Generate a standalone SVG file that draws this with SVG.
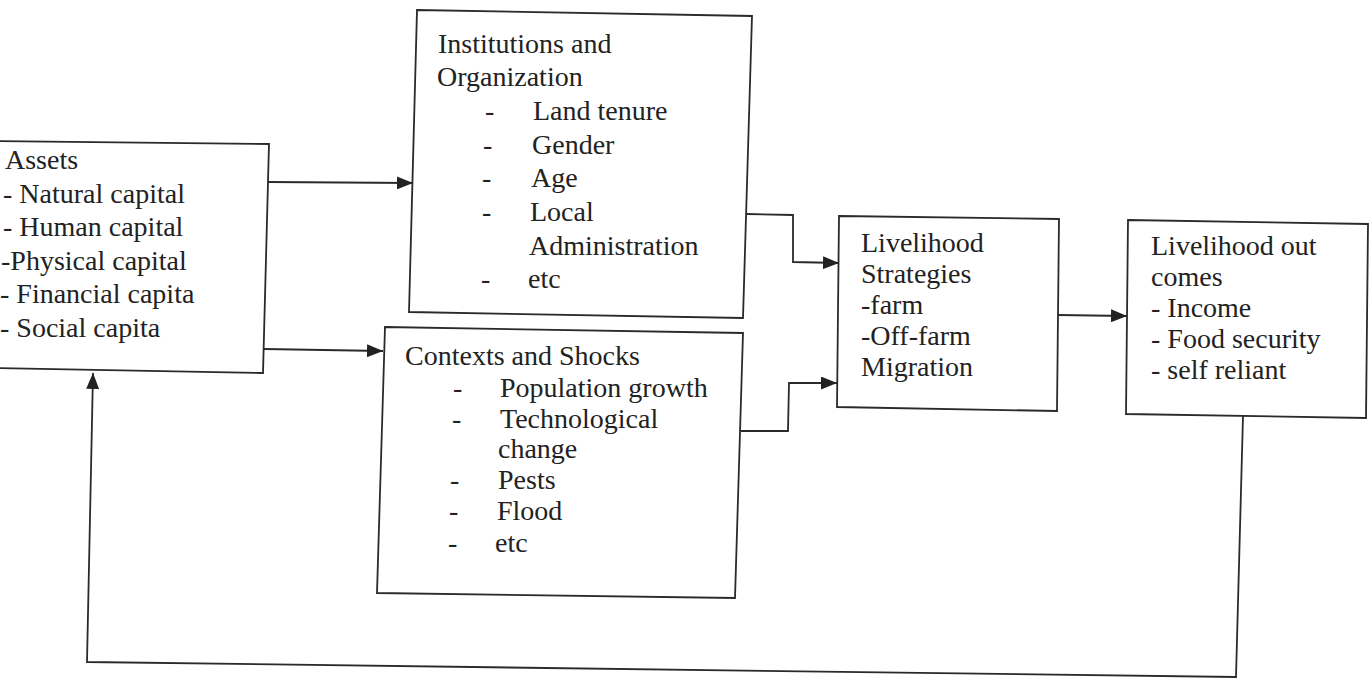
<svg xmlns="http://www.w3.org/2000/svg" width="1372" height="680" viewBox="0 0 1372 680">
<defs>
<style>
.box{fill:none;stroke:#2a2a2a;stroke-width:1.8;stroke-linejoin:miter}
.con{fill:none;stroke:#2a2a2a;stroke-width:1.8}
text{font-family:"Liberation Serif","Times New Roman",serif;font-size:28px;fill:#222}
</style>
<marker id="ah" markerUnits="userSpaceOnUse" markerWidth="16" markerHeight="13" refX="16" refY="6.5" orient="auto">
<path d="M0,0 L16,6.5 L0,13 z" fill="#222"/>
</marker>
</defs>
<rect width="1372" height="680" fill="#fff"/>

<g id="assets">
<polygon class="box" points="-6,141 269,144 263,373 -6,368"/>
<text x="5" y="169">Assets</text>
<text x="3" y="203">- Natural capital</text>
<text x="3" y="236">- Human capital</text>
<text x="1" y="270">-Physical capital</text>
<text x="0" y="303">- Financial capita</text>
<text x="0" y="337">- Social capita</text>
</g>

<g id="institutions">
<polygon class="box" points="417,10 752,16 743,318 409,312"/>
<text x="438" y="53">Institutions and</text>
<text x="437" y="86">Organization</text>
<text x="485" y="120">-</text><text x="533" y="120">Land tenure</text>
<text x="483" y="154">-</text><text x="532" y="154">Gender</text>
<text x="482" y="187">-</text><text x="531" y="187">Age</text>
<text x="482" y="221">-</text><text x="530" y="221">Local</text>
<text x="529" y="255">Administration</text>
<text x="481" y="288">-</text><text x="528" y="288">etc</text>
</g>

<g id="contexts">
<polygon class="box" points="385,327 743,333 735,598 377,593"/>
<text x="405" y="365">Contexts and Shocks</text>
<text x="453" y="397">-</text><text x="500" y="397">Population growth</text>
<text x="452" y="428">-</text><text x="500" y="428">Technological</text>
<text x="498" y="458">change</text>
<text x="450" y="489">-</text><text x="498" y="489">Pests</text>
<text x="449" y="520">-</text><text x="497" y="520">Flood</text>
<text x="448" y="552">-</text><text x="495" y="552">etc</text>
</g>

<g id="strategies">
<polygon class="box" points="839,216 1059,219 1057,411 837,407"/>
<text x="861" y="252">Livelihood</text>
<text x="861" y="283">Strategies</text>
<text x="861" y="314">-farm</text>
<text x="861" y="345">-Off-farm</text>
<text x="861" y="376">Migration</text>
</g>

<g id="outcomes">
<polygon class="box" points="1128,220 1368,224 1366,418 1126,414"/>
<text x="1151" y="255">Livelihood out</text>
<text x="1151" y="286">comes</text>
<text x="1151" y="317">- Income</text>
<text x="1151" y="348">- Food security</text>
<text x="1151" y="379">- self reliant</text>
</g>

<g id="connectors">
<path class="con" d="M268,182 L413,183" marker-end="url(#ah)"/>
<path class="con" d="M264,349 L383,351" marker-end="url(#ah)"/>
<path class="con" d="M746,214 L793,215 L793,262 L839,263" marker-end="url(#ah)"/>
<path class="con" d="M741,431 L788,431 L789,383 L837,383" marker-end="url(#ah)"/>
<path class="con" d="M1058,315 L1127,316" marker-end="url(#ah)"/>
<path class="con" d="M1243,416 L1236,677 L87,662 L93,373" marker-end="url(#ah)"/>
</g>
</svg>
